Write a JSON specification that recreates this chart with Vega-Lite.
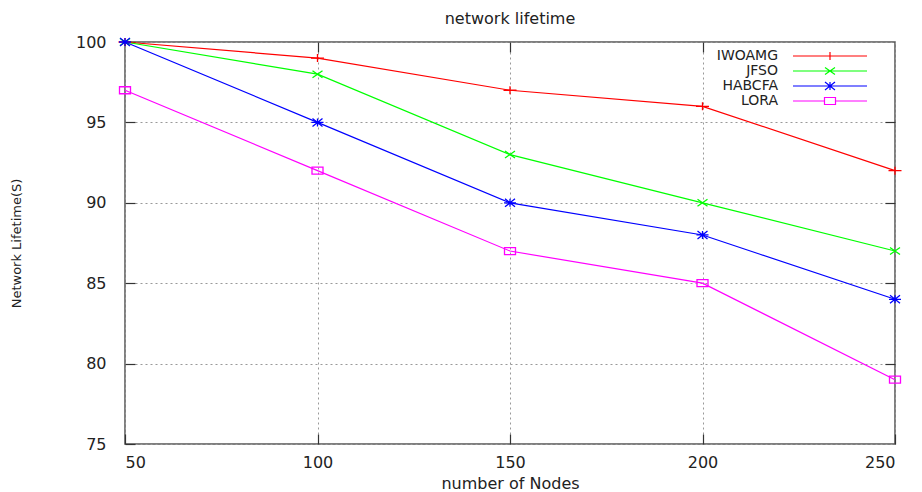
{
  "$schema": "https://vega.github.io/schema/vega-lite/v6.json",
  "width": 770,
  "height": 402,
  "autosize": {"type": "none"},
  "padding": {"left": 125, "top": 42, "right": 27, "bottom": 48},
  "background": "white",
  "title": {"text": "network lifetime", "fontSize": 16, "fontWeight": "normal", "font": "DejaVu Sans", "color": "#222", "offset": 7},
  "data": {"values": [
    {"nodes": 50, "lifetime": 100, "algo": "IWOAMG"},
    {"nodes": 100, "lifetime": 99, "algo": "IWOAMG"},
    {"nodes": 150, "lifetime": 97, "algo": "IWOAMG"},
    {"nodes": 200, "lifetime": 96, "algo": "IWOAMG"},
    {"nodes": 250, "lifetime": 92, "algo": "IWOAMG"},
    {"nodes": 50, "lifetime": 100, "algo": "JFSO"},
    {"nodes": 100, "lifetime": 98, "algo": "JFSO"},
    {"nodes": 150, "lifetime": 93, "algo": "JFSO"},
    {"nodes": 200, "lifetime": 90, "algo": "JFSO"},
    {"nodes": 250, "lifetime": 87, "algo": "JFSO"},
    {"nodes": 50, "lifetime": 100, "algo": "HABCFA"},
    {"nodes": 100, "lifetime": 95, "algo": "HABCFA"},
    {"nodes": 150, "lifetime": 90, "algo": "HABCFA"},
    {"nodes": 200, "lifetime": 88, "algo": "HABCFA"},
    {"nodes": 250, "lifetime": 84, "algo": "HABCFA"},
    {"nodes": 50, "lifetime": 97, "algo": "LORA"},
    {"nodes": 100, "lifetime": 92, "algo": "LORA"},
    {"nodes": 150, "lifetime": 87, "algo": "LORA"},
    {"nodes": 200, "lifetime": 85, "algo": "LORA"},
    {"nodes": 250, "lifetime": 79, "algo": "LORA"}
  ]},
  "layer": [
    {
      "mark": {"type": "line", "strokeWidth": 1.2, "clip": false},
      "encoding": {
        "x": {"field": "nodes", "type": "quantitative",
              "scale": {"domain": [50, 250], "nice": false, "zero": false},
              "axis": {"orient": "bottom", "values": [50, 100, 150, 200, 250], "title": "number of Nodes",
                       "tickSize": -10, "labelPadding": 20, "titlePadding": 5, "grid": true}},
        "y": {"field": "lifetime", "type": "quantitative",
              "scale": {"domain": [75, 100], "nice": false, "zero": false},
              "axis": {"orient": "left", "values": [75, 80, 85, 90, 95, 100], "title": "Network Lifetime(S)",
                       "tickSize": -10, "labelPadding": 29, "titlePadding": 52, "titleFontSize": 13, "grid": true}},
        "color": {"field": "algo", "type": "nominal",
                  "scale": {"domain": ["IWOAMG", "JFSO", "HABCFA", "LORA"], "range": ["#ff0000", "#00ff00", "#0000ff", "#ff00ff"]},
                  "legend": {
                    "orient": "none", "legendX": 565, "legendY": 7,
                    "title": null, "labelFontSize": 14, "labelFont": "DejaVu Sans", "labelColor": "#222",
                    "labelAlign": "right", "labelOffset": -59, "symbolOffset": 133, "symbolSize": 100,
                    "symbolStrokeWidth": 1.2, "rowPadding": 1, "padding": 0,
                    "encode": {"symbols": {"update": {
                      "fill": {"value": "transparent"},
                      "opacity": {"value": 1}
                    }}}
                  }}
      }
    },
    {
      "mark": {"type": "point", "filled": false, "size": 100, "strokeWidth": 1.3, "opacity": 1, "clip": false},
      "encoding": {
        "x": {"field": "nodes", "type": "quantitative", "axis": null},
        "y": {"field": "lifetime", "type": "quantitative", "axis": null},
        "color": {"field": "algo", "type": "nominal"},
        "shape": {"condition": [
          {"test": "datum.algo === 'IWOAMG'", "value": "M-1.3,0H1.3M0,-0.8V0.8"},
          {"test": "datum.algo === 'JFSO'", "value": "M-1,-0.7L1,0.7M-1,0.7L1,-0.7"},
          {"test": "datum.algo === 'HABCFA'", "value": "M-1.2,0H1.2M0,-0.8V0.8M-1,-0.8L1,0.8M-1,0.8L1,-0.8"}
        ], "value": "M-1.1,-0.7H1.1V0.7H-1.1Z"}
      }
    },
    {
      "mark": {"type": "point", "opacity": 0, "filled": false},
      "encoding": {
        "x": {"field": "nodes", "type": "quantitative",
              "axis": {"orient": "top", "values": [100, 150, 200], "labels": false, "title": null, "tickSize": -10, "grid": false}},
        "y": {"field": "lifetime", "type": "quantitative",
              "axis": {"orient": "right", "values": [80, 85, 90, 95], "labels": false, "title": null, "tickSize": -10, "grid": false}},
        "color": {"field": "algo", "type": "nominal"},
        "shape": {"field": "algo", "type": "nominal",
                  "scale": {"domain": ["IWOAMG", "JFSO", "HABCFA", "LORA"],
                            "range": ["M-7.4,0H7.4M0,-0.8V0.8", "M-7.4,0H7.4M-1,-0.7L1,0.7M-1,0.7L1,-0.7", "M-7.4,0H7.4M0,-0.8V0.8M-1,-0.8L1,0.8M-1,0.8L1,-0.8", "M-7.4,0H-1.1M1.1,0H7.4M-1.1,-0.7H1.1V0.7H-1.1Z"]},
                  "legend": {
                    "orient": "none", "legendX": 565, "legendY": 7,
                    "title": null, "labelFontSize": 14, "labelFont": "DejaVu Sans", "labelColor": "#222",
                    "labelAlign": "right", "labelOffset": -59, "symbolOffset": 133, "symbolSize": 100,
                    "symbolStrokeWidth": 1.2, "rowPadding": 1, "padding": 0,
                    "encode": {"symbols": {"update": {
                      "fill": {"value": "transparent"},
                      "opacity": {"value": 1}
                    }}}
                  }}
      }
    }
  ],
  "resolve": {"axis": {"x": "independent", "y": "independent"}},
  "config": {
    "view": {"stroke": "#555", "strokeWidth": 1.5},
    "font": "DejaVu Sans",
    "axis": {
      "domain": false,
      "labelFont": "DejaVu Sans", "labelFontSize": 16, "labelColor": "#222",
      "titleFont": "DejaVu Sans", "titleFontSize": 16, "titleFontWeight": "normal", "titleColor": "#222",
      "tickColor": "#333", "tickWidth": 1.2,
      "gridColor": "#999", "gridDash": [2, 3], "gridWidth": 1
    }
  }
}
